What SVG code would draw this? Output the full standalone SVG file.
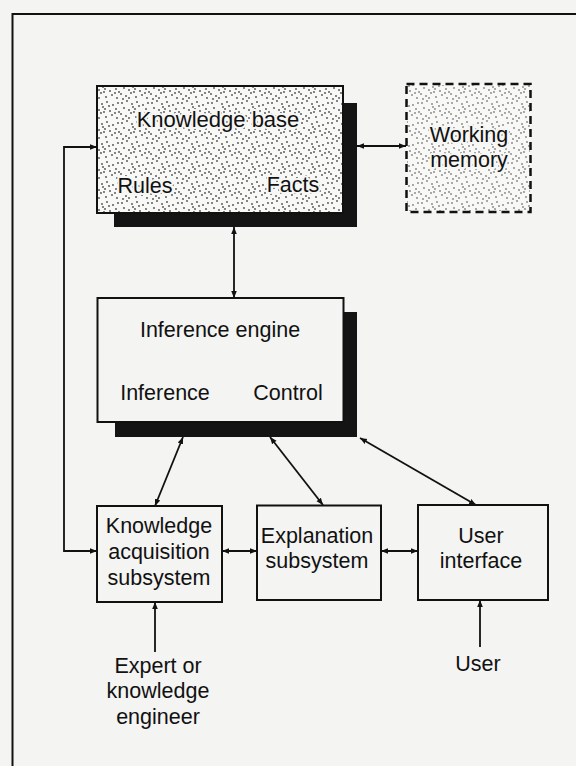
<svg xmlns="http://www.w3.org/2000/svg" width="576" height="766" viewBox="0 0 576 766">
  <style>
    .box { fill: #f4f4f2; stroke: #111; stroke-width: 2; }
    .shadow { fill: #141414; }
    .conn { fill: none; stroke: #111; stroke-width: 1.8; }
    .lbl { font-family: "Liberation Sans", Arial, Helvetica, sans-serif; font-size: 21.5px; fill: #111; text-anchor: middle; }
    .halo { paint-order: stroke; stroke: #f6f6f4; stroke-width: 4px; stroke-linejoin: round; }
  </style>
  <defs>
    <pattern id="stipple" width="30" height="20" patternUnits="userSpaceOnUse">
      <g fill="#222">
        <circle cx="2" cy="3" r="0.9"/><circle cx="7" cy="1" r="0.9"/><circle cx="12" cy="4" r="0.9"/>
        <circle cx="17" cy="2" r="0.9"/><circle cx="23" cy="5" r="0.9"/><circle cx="28" cy="3" r="0.9"/>
        <circle cx="4" cy="8" r="0.9"/><circle cx="9" cy="10" r="0.9"/><circle cx="15" cy="9" r="0.9"/>
        <circle cx="20" cy="11" r="0.9"/><circle cx="26" cy="9" r="0.9"/><circle cx="1" cy="14" r="0.9"/>
        <circle cx="6" cy="16" r="0.9"/><circle cx="11" cy="13" r="0.9"/><circle cx="16" cy="17" r="0.9"/>
        <circle cx="22" cy="15" r="0.9"/><circle cx="27" cy="18" r="0.9"/><circle cx="13" cy="7" r="0.9"/>
        <circle cx="19" cy="6" r="0.9"/><circle cx="25" cy="13" r="0.9"/><circle cx="3" cy="19" r="0.9"/>
        <circle cx="9" cy="18" r="0.9"/><circle cx="29" cy="12" r="0.9"/><circle cx="14" cy="12" r="0.9"/>
      </g>
    </pattern>
    <marker id="arr" viewBox="0 0 10 10" refX="10" refY="5" markerWidth="7" markerHeight="7" markerUnits="userSpaceOnUse" orient="auto-start-reverse">
      <path d="M0,1 L10,5 L0,9 Z" fill="#111"/>
    </marker>
  </defs>

  <rect x="0" y="0" width="576" height="766" fill="#f4f4f2"/>

  <!-- outer frame -->
  <g id="frame" fill="none" stroke="#111" stroke-width="2">
    <path d="M576,14 L12.5,14 L12.5,766"/>
  </g>

  <!-- connectors -->
  <g id="connectors">
    <path class="conn" d="M97,551 L64,551 L64,147 L97,147" marker-start="url(#arr)" marker-end="url(#arr)"/>
    <line class="conn" x1="357" y1="146" x2="406" y2="146" marker-start="url(#arr)" marker-end="url(#arr)"/>
    <line class="conn" x1="234" y1="227" x2="234" y2="298" marker-start="url(#arr)" marker-end="url(#arr)"/>
    <line class="conn" x1="183" y1="437" x2="155" y2="506" marker-start="url(#arr)" marker-end="url(#arr)"/>
    <line class="conn" x1="270" y1="437" x2="323" y2="505" marker-start="url(#arr)" marker-end="url(#arr)"/>
    <line class="conn" x1="360" y1="438" x2="476" y2="505" marker-start="url(#arr)" marker-end="url(#arr)"/>
    <line class="conn" x1="222" y1="551" x2="257" y2="551" marker-start="url(#arr)" marker-end="url(#arr)"/>
    <line class="conn" x1="381" y1="551" x2="418" y2="551" marker-start="url(#arr)" marker-end="url(#arr)"/>
    <line class="conn" x1="155" y1="652" x2="155" y2="602" marker-end="url(#arr)"/>
    <line class="conn" x1="480" y1="647" x2="480" y2="600" marker-end="url(#arr)"/>
  </g>

  <!-- Knowledge base -->
  <g id="knowledge-base">
    <rect class="shadow" x="114" y="103" width="243" height="124"/>
    <rect x="97" y="86" width="246" height="127" fill="#f8f8f6" stroke="#111" stroke-width="2"/>
    <rect x="98" y="87" width="244" height="125" fill="url(#stipple)" opacity="0.8"/>
    <text class="lbl halo" x="218" y="127" style="font-size:22px">Knowledge base</text>
    <text class="lbl halo" x="145" y="193">Rules</text>
    <text class="lbl halo" x="293" y="192">Facts</text>
  </g>

  <!-- Working memory -->
  <g id="working-memory">
    <rect x="406.5" y="84" width="124" height="128" fill="#f8f8f6"/>
    <rect x="407" y="85" width="123" height="126" fill="url(#stipple)" opacity="0.55"/>
    <rect x="406.5" y="84" width="124" height="128" fill="none" stroke="#111" stroke-width="2.5" stroke-dasharray="8 5"/>
    <text class="lbl halo" x="469" y="142">Working</text>
    <text class="lbl halo" x="469" y="167">memory</text>
  </g>

  <!-- Inference engine -->
  <g id="inference-engine">
    <rect class="shadow" x="115" y="312" width="242" height="125"/>
    <rect class="box" x="97.5" y="298" width="246" height="124"/>
    <text class="lbl" x="220" y="337">Inference engine</text>
    <text class="lbl" x="165" y="400">Inference</text>
    <text class="lbl" x="288" y="400">Control</text>
  </g>

  <!-- Knowledge acquisition subsystem -->
  <g id="knowledge-acquisition">
    <rect class="box" x="97" y="506" width="125" height="96"/>
    <text class="lbl" x="159" y="533">Knowledge</text>
    <text class="lbl" x="159" y="559">acquisition</text>
    <text class="lbl" x="159" y="585">subsystem</text>
  </g>

  <!-- Explanation subsystem -->
  <g id="explanation">
    <rect class="box" x="257" y="505.5" width="124" height="94.5"/>
    <text class="lbl" x="317" y="543">Explanation</text>
    <text class="lbl" x="317" y="568">subsystem</text>
  </g>

  <!-- User interface -->
  <g id="user-interface">
    <rect class="box" x="418" y="505" width="130" height="95"/>
    <text class="lbl" x="481" y="543">User</text>
    <text class="lbl" x="481" y="568">interface</text>
  </g>

  <!-- Expert or knowledge engineer -->
  <g id="expert">
    <text class="lbl" x="158" y="673">Expert or</text>
    <text class="lbl" x="158" y="698">knowledge</text>
    <text class="lbl" x="158" y="724">engineer</text>
  </g>

  <!-- User -->
  <g id="user">
    <text class="lbl" x="478" y="671">User</text>
  </g>
</svg>
